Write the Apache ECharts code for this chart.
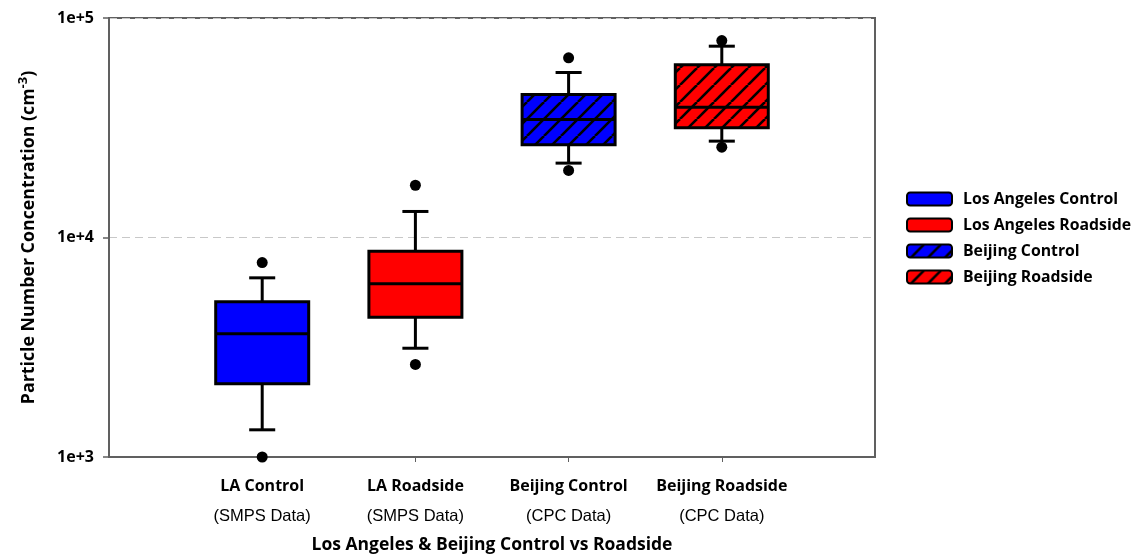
<!DOCTYPE html>
<html><head><meta charset="utf-8">
<script src="https://cdn.jsdelivr.net/npm/echarts@6/dist/echarts.min.js"></script>
<style>html,body{margin:0;padding:0;background:#fff}#c{width:1138px;height:559px}</style>
</head><body><div id="c"></div>
<script>
// ---- data ----
const categories = ['LA Control', 'LA Roadside', 'Beijing Control', 'Beijing Roadside'];
const instruments = ['(SMPS Data)', '(SMPS Data)', '(CPC Data)', '(CPC Data)'];
const seriesNames = ['Los Angeles Control', 'Los Angeles Roadside', 'Beijing Control', 'Beijing Roadside'];
// [lower whisker, Q1, median, Q3, upper whisker]
const laControl  = [1330, 2155, 3640, 5095, 6550];
const laRoadside = [3130, 4335, 6150, 8660, 13140];
const bjControl  = [21820, 26440, 34480, 44830, 56460];
const bjRoadside = [27480, 31600, 39250, 61180, 74400];
const lowOutliers  = [1000, 2640, 20200, 25790];
const highOutliers = [7690, 17300, 65850, 78960];
const yTickValues = [1000, 10000, 100000];

// ---- styling helpers ----
const BLUE = '#0000ff', RED = '#ff0000';
function hatch(color) {
  const s = 17;
  const c = document.createElement('canvas');
  c.width = s; c.height = s;
  const g = c.getContext('2d');
  g.fillStyle = color; g.fillRect(0, 0, s, s);
  g.strokeStyle = '#000'; g.lineWidth = 2.6;
  for (let k = -1; k <= 1; k++) {
    g.beginPath(); g.moveTo(k * s, s); g.lineTo(k * s + s, 0); g.stroke();
  }
  return { image: c, repeat: 'repeat' };
}
const fills = [BLUE, RED, hatch(BLUE), hatch(RED)];
const boxData = [laControl, laRoadside, bjControl, bjRoadside];
const xCats = [''].concat(categories, ['']);

function renderBox(params, api) {
  const x = api.value(0);
  const vals = [api.value(1), api.value(2), api.value(3), api.value(4), api.value(5)];
  const pts = vals.map(v => api.coord([x, v]));
  const band = api.size([1, 1])[0];
  const w = band * 0.607, cap = band * 0.17;
  const cx = pts[0][0];
  const fill = fills[params.seriesIndex];
  const ls = { stroke: '#000', lineWidth: 3 };
  return {
    type: 'group',
    children: [
      { type: 'line', shape: { x1: cx, y1: pts[4][1], x2: cx, y2: pts[3][1] }, style: ls },
      { type: 'line', shape: { x1: cx, y1: pts[1][1], x2: cx, y2: pts[0][1] }, style: ls },
      { type: 'line', shape: { x1: cx - cap / 2, y1: pts[4][1], x2: cx + cap / 2, y2: pts[4][1] }, style: ls },
      { type: 'line', shape: { x1: cx - cap / 2, y1: pts[0][1], x2: cx + cap / 2, y2: pts[0][1] }, style: ls },
      { type: 'rect', shape: { x: cx - w / 2, y: pts[3][1], width: w, height: pts[1][1] - pts[3][1] },
        style: { fill: fill, stroke: '#000', lineWidth: 3, lineJoin: 'miter' } },
      { type: 'line', shape: { x1: cx - w / 2, y1: pts[2][1], x2: cx + w / 2, y2: pts[2][1] }, style: ls }
    ]
  };
}

const series = boxData.map((d, i) => ({
  name: seriesNames[i],
  type: 'custom',
  renderItem: renderBox,
  encode: { x: 0, y: [1, 2, 3, 4, 5] },
  itemStyle: { color: fills[i], borderColor: '#000', borderWidth: 2 },
  data: [[i + 1].concat(d)],
  z: 2
}));
const outlierPts = [];
categories.forEach((c, i) => {
  outlierPts.push([i + 1, lowOutliers[i]]);
  outlierPts.push([i + 1, highOutliers[i]]);
});
series.push({
  name: 'outliers', type: 'scatter', symbol: 'circle', symbolSize: 11,
  itemStyle: { color: '#000', opacity: 1 }, data: outlierPts, z: 3, silent: true
});

const FONT = '"Open Sans", Lato, sans-serif';
const AX = '#606060';
const chart = echarts.init(document.getElementById('c'), null, { renderer: 'canvas' });
chart.setOption({
  animation: false,
  backgroundColor: '#fff',
  grid: { left: 109, right: 263, top: 18, bottom: 98, show: true, borderColor: AX, borderWidth: 2, backgroundColor: 'transparent' },
  legend: {
    data: seriesNames, orient: 'vertical', left: 906, top: 191, padding: 0,
    itemWidth: 45, itemHeight: 13, itemGap: 10, icon: 'roundRect',
    itemStyle: { borderColor: '#000', borderWidth: 2 },
    textStyle: { fontFamily: FONT, fontWeight: 'bold', fontSize: 15.8, color: '#000', padding: [0, 0, 0, 6] },
    selectedMode: false
  },
  xAxis: {
    type: 'category', data: xCats, boundaryGap: false,
    name: 'Los Angeles & Beijing Control vs Roadside', nameLocation: 'middle', nameGap: 79,
    nameTextStyle: { fontFamily: FONT, fontWeight: 'bold', fontSize: 17.5, color: '#000' },
    axisLine: { show: true, lineStyle: { color: AX, width: 2 } },
    axisTick: { show: true, length: 5, lineStyle: { color: AX, width: 1 },
      interval: (idx) => idx > 0 && idx < xCats.length - 1 },
    axisLabel: {
      interval: 0, margin: 14,
      formatter: (v, idx) => v ? '{b|' + v + '}\n{n|' + instruments[idx - 1] + '}' : '',
      rich: {
        b: { fontFamily: FONT, fontWeight: 'bold', fontSize: 16, color: '#000', lineHeight: 30 },
        n: { fontFamily: '"Liberation Sans", Arial, sans-serif', fontSize: 16.5, color: '#000', lineHeight: 30 }
      }
    },
    splitLine: { show: false }
  },
  yAxis: {
    type: 'log', logBase: 10, min: yTickValues[0], max: yTickValues[yTickValues.length - 1],
    name: 'Particle Number Concentration (cm{sup|-3})', nameLocation: 'middle', nameGap: 68,
    nameTextStyle: { fontFamily: FONT, fontWeight: 'bold', fontSize: 17.8, color: '#000',
      rich: { sup: { fontFamily: FONT, fontWeight: 'bold', fontSize: 13, color: '#000', padding: [0, 0, 11, 0] } } },
    axisLine: { show: true, lineStyle: { color: AX, width: 2 } },
    axisTick: { show: true, length: 6, lineStyle: { color: AX, width: 1.5 } },
    axisLabel: { margin: 15, fontFamily: FONT, fontWeight: 'bold', fontSize: 16, color: '#000',
      formatter: v => '1e+' + Math.round(Math.log10(v)) },
    splitLine: { show: true, lineStyle: { color: '#c8c8c8', type: [8, 5], width: 1 } },
    minorTick: { show: false }
  },
  series: series
});
</script>
</body></html>
